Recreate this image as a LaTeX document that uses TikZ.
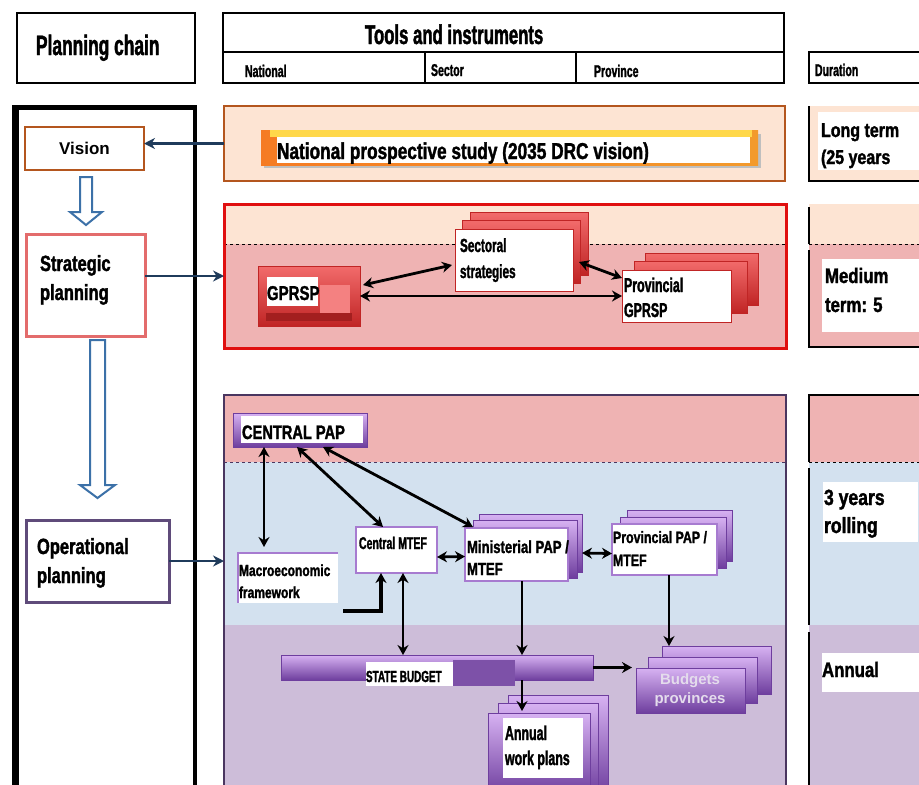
\documentclass[tikz,border=0pt]{standalone}
\usepackage{fontspec}
\setmainfont{Liberation Sans}[FakeStretch=0.62, BoldFeatures={FakeBold=1.5}]
\newfontfamily\condB{Liberation Sans}[FakeStretch=0.75, BoldFeatures={FakeBold=1.5}]
\newfontfamily\semicond{Liberation Sans}[FakeStretch=0.8, BoldFeatures={FakeBold=1.5}]
\newfontfamily\plainsans{Liberation Sans}
\usetikzlibrary{arrows.meta,calc}
\definecolor{peach}{HTML}{FDE4D3}
\definecolor{pinkF}{HTML}{EFB3B3}
\definecolor{blueF}{HTML}{D3E1EF}
\definecolor{lilacF}{HTML}{CDBDD9}
\definecolor{brownB}{HTML}{B4561E}
\definecolor{redB}{HTML}{E00F0F}
\definecolor{purpleB}{HTML}{4A3660}
\definecolor{navy}{HTML}{1F3B5B}
\definecolor{hollowB}{HTML}{3C71A8}
\definecolor{purpleL}{HTML}{A77BD0}
\definecolor{purpleD}{HTML}{6E3E9E}
\definecolor{purpleLt}{HTML}{D7B2F2}
\definecolor{redL}{HTML}{F26B6B}
\definecolor{redD}{HTML}{C02525}
\definecolor{stratB}{HTML}{E36C6C}
\definecolor{opB}{HTML}{5F4B7A}
\definecolor{orangeB}{HTML}{F39A2C}
\definecolor{yellowS}{HTML}{FFD84A}
\definecolor{bpText}{HTML}{E4DCEC}
\tikzset{
  box/.style={anchor=north west, inner sep=0pt, outer sep=0pt},
  txt/.style={anchor=base west, inner sep=0pt, outer sep=0pt, align=left},
  hdr/.style={draw=black, line width=1.2pt},
  redlayer/.style={top color=redL, bottom color=redD, draw=redD, line width=0.6pt},
  redfront/.style={fill=white, draw=redD, line width=0.8pt},
  purplelayer/.style={top color=purpleLt, bottom color=purpleD, draw=purpleD, line width=0.6pt},
  purplefront/.style={fill=white, draw=purpleL, line width=1.2pt},
  purplebtn/.style={top color=purpleLt, bottom color=purpleD, draw=purpleD, line width=0.8pt},
  arr/.style={line width=2.8pt, -{Stealth[length=10pt,width=11pt]}},
  darr/.style={line width=2.8pt, {Stealth[length=10pt,width=11pt]}-{Stealth[length=10pt,width=11pt]}},
  navyarr/.style={navy, line width=2.8pt, -{Stealth[length=11pt,width=11pt]}},
  hollow/.style={fill=white, draw=hollowB, line width=2pt, line join=miter},
}
\newcommand\mybox[6]{\node[box,#2,minimum width={(#5-#3)*1pt},minimum height={(#6-#4)*1pt}] (#1) at (#3,#4) {};}
\newcommand\fs[1]{\fontsize{#1}{#1}\selectfont\bfseries}
\begin{document}
\begin{tikzpicture}[x=1pt,y=-1pt]
\useasboundingbox (0,0) rectangle (919,785);
\fill[white] (0,0) rectangle (919,785);
% ---------- header ----------
\mybox{pc}{hdr}{17}{13}{195}{83}
\node[txt,font=\fs{28}] (pct) at (36,55) {Planning chain};
\mybox{tools}{hdr}{223}{13}{784}{52}
\node[txt,font=\fs{27}] (toolst) at (365,44) {Tools and instruments};
\mybox{natc}{hdr}{223}{52}{425}{83}
\mybox{secc}{hdr}{425}{52}{576}{83}
\mybox{provc}{hdr}{576}{52}{784}{83}
\mybox{durc}{hdr}{809}{52}{935}{83}
\node[txt,font=\fs{17}] (natt) at (245,77) {National};
\node[txt,font=\fs{17}] (sect) at (431,76) {Sector};
\node[txt,font=\fs{17}] (provt) at (594,77) {Province};
\node[txt,font=\fs{17}] (durt) at (815,76) {Duration};
% ---------- left chain frame ----------
\draw[line width=7pt] (15.5,800) -- (15.5,105);
\draw[line width=5pt] (12,107.5) -- (197,107.5);
\draw[line width=4pt] (195,105) -- (195,800);
% ---------- national section ----------
\mybox{natsec}{fill=peach, draw=brownB, line width=2.5pt}{224}{106}{785}{181}
\mybox{natshadow}{fill=black!25}{264}{134}{761}{168}
\mybox{natbar}{left color=orangeB!80!red, right color=orangeB}{261}{130}{758}{165}
\mybox{natbarY}{fill=yellowS}{270}{130}{752}{137}
\mybox{natbarW}{fill=white}{277}{137}{750}{163}
\node[txt,font=\condB\fs{23}] (natstudy) at (277,159) {National prospective study (2035 DRC vision)};
\mybox{ltsec}{fill=peach}{809}{106}{935}{181}
\draw[line width=1.2pt] (ltsec.north west) -- (ltsec.south west) -- (ltsec.south east);
\mybox{ltw}{fill=white}{818}{112}{935}{170}
\node[txt,font=\semicond\fs{20}] (lt1) at (821,137) {Long term};
\node[txt,font=\semicond\fs{20}] (lt2) at (821,164) {(25 years};
% ---------- strategic section ----------
\mybox{stsec}{fill=pinkF}{224}{204}{786}{348}
\mybox{sttop}{fill=peach}{224}{204}{786}{244}
\draw[dashed, line width=0.8pt] (sttop.south west) -- (sttop.south east);
\node[box, draw=redB, line width=3pt, minimum width=562pt, minimum height=144pt] (stframe) at (224,204) {};
\mybox{mtsec}{fill=pinkF}{809}{204}{935}{347}
\mybox{mttop}{fill=peach}{809}{204}{935}{244}
\draw[dashed, line width=0.8pt] (mttop.south west) -- (mttop.south east);
\draw[line width=1.2pt] (809,207) -- (809,244);
\draw[line width=1.2pt] (809,250) -- (mtsec.south west) -- (mtsec.south east);
\mybox{mtw}{fill=white}{822}{259}{935}{332}
\node[txt,font=\semicond\fs{21}] (mt1) at (825,283) {Medium};
\node[txt,font=\semicond\fs{21}] (mt2) at (825,312) {term: 5};
% GPRSP button
\mybox{gprsp}{top color=redL, bottom color=redD, draw=redD, line width=0.8pt}{258}{266}{360}{326}
\mybox{gprspP}{fill=redL!85!white}{320}{285}{350}{315}
\mybox{gprspS}{fill=redD!85!black}{266}{313}{352}{321}
\mybox{gprspW}{fill=white}{267}{277}{318}{306}
\node[txt,font=\condB\fs{20}] (gprspt) at (267,300) {GPRSP};
% sectoral strategies
\mybox{sect3}{redlayer}{470}{212}{588}{275}
\mybox{sect2}{redlayer}{462}{220}{580}{283}
\mybox{sectf}{redfront}{455}{229}{573}{291}
\node[txt,font=\fs{19}] (sectt1) at (460,252) {Sectoral};
\node[txt,font=\fs{19}] (sectt2) at (460,278) {strategies};
% provincial GPRSP
\mybox{pg3}{redlayer}{645}{253}{758}{305}
\mybox{pg2}{redlayer}{634}{261}{747}{313}
\mybox{pgf}{redfront}{622}{270}{731}{322}
\node[txt,font=\fs{20}] (pgt1) at (624,292) {Provincial};
\node[txt,font=\fs{20}] (pgt2) at (624,317) {GPRSP};
% strategic arrows
\draw[darr] (gprsp.east) -- (pgf.west);
\draw[darr] ($(gprsp.north east)+(3,19)$) -- ($(sectf.west)+(-3,5)$);
\draw[darr] ($(sectf.east)+(6,2)$) -- ($(pgf.north west)+(0,8)$);
% ---------- operational section ----------
\mybox{opsec}{fill=lilacF}{224}{395}{786}{800}
\mybox{optop}{fill=pinkF}{224}{395}{786}{462}
\mybox{opmid}{fill=blueF}{224}{462}{786}{625}
\draw[dashed, line width=0.8pt, purpleB] (optop.south west) -- (optop.south east);
\node[box, draw=purpleB, line width=2.5pt, minimum width=562pt, minimum height=405pt] (opframe) at (224,395) {};
\mybox{odsec}{fill=lilacF}{809}{395}{935}{800}
\mybox{odtop}{fill=pinkF}{809}{395}{935}{462}
\mybox{odmid}{fill=blueF}{809}{462}{935}{625}
\draw[dashed, line width=0.8pt] (odtop.south west) -- (odtop.south east);
\draw[line width=1.2pt] (odsec.north east) -- (odsec.north west) -- (809,462);
\draw[line width=1.2pt] (809,468) -- (809,625);
\draw[line width=1.2pt] (809,632) -- (809,800);
\mybox{odw1}{fill=white}{823}{482}{918}{542}
\node[txt,font=\semicond\fs{22}] (od1) at (824,505) {3 years};
\node[txt,font=\semicond\fs{22}] (od2) at (824,533) {rolling};
\mybox{odw2}{fill=white}{822}{653}{935}{692}
\node[txt,font=\semicond\fs{21}] (od3) at (822,677) {Annual};
% CENTRAL PAP
\mybox{cpap}{purplebtn}{233}{413}{367}{447}
\mybox{cpapW}{fill=white}{241}{416}{363}{443}
\node[txt,font=\condB\fs{19.5}] (cpapt) at (242,439) {CENTRAL PAP};
% Macroeconomic framework
\mybox{macro}{fill=white}{238}{553}{338}{603}
\draw[purpleL, line width=1.5pt] (macro.south west) -- (macro.north west) -- (macro.north east);
\node[txt,font=\condB\fs{16}] (macrot1) at (239,576) {Macroeconomic};
\node[txt,font=\condB\fs{16}] (macrot2) at (239,598) {framework};
% Central MTEF
\mybox{cmtef}{purplefront}{356}{527}{437}{573}
\node[txt,font=\fs{17}] (cmteft) at (359,549) {Central MTEF};
% Ministerial PAP / MTEF
\mybox{mini3}{purplelayer}{479}{514}{582}{572}
\mybox{mini2}{purplelayer}{473}{520}{577}{578}
\mybox{minif}{purplefront}{465}{528}{568}{581}
\node[txt,font=\condB\fs{17.5}] (minit1) at (467,553) {Ministerial PAP /};
\node[txt,font=\condB\fs{17.5}] (minit2) at (467,575) {MTEF};
% Provincial PAP / MTEF
\mybox{ppap3}{purplelayer}{627}{510}{732}{561}
\mybox{ppap2}{purplelayer}{620}{517}{726}{568}
\mybox{ppapf}{purplefront}{612}{524}{717}{575}
\node[txt,font=\condB\fs{16.5}] (ppapt1) at (613,543) {Provincial PAP /};
\node[txt,font=\condB\fs{16.5}] (ppapt2) at (613,566) {MTEF};
% STATE BUDGET
\mybox{sb}{purplebtn}{281}{655}{593}{680}
\mybox{sbD}{fill=purpleD!90}{453}{660}{515}{686}
\mybox{sbW}{fill=white}{366}{662}{453}{686}
\node[txt,font=\fs{16}] (sbt) at (366,682) {STATE BUDGET};
% Budgets provinces
\mybox{bp3}{purplelayer}{662}{646}{771}{694}
\mybox{bp2}{purplelayer}{648}{657}{757}{703}
\mybox{bpf}{purplebtn}{636}{668}{745}{713}
\node[inner sep=0pt, font=\plainsans\bfseries\fontsize{15}{19}\selectfont, text=bpText, align=center] (bpt) at (690,690) {Budgets\\provinces};
% Annual work plans
\mybox{awp3}{purplelayer}{508}{695}{608}{795}
\mybox{awp2}{purplelayer}{498}{703}{598}{795}
\mybox{awpf}{purplebtn}{488}{713}{590}{795}
\mybox{awpW}{fill=white}{503}{718}{583}{778}
\node[txt,font=\fs{20}] (awpt1) at (505,740) {Annual};
\node[txt,font=\fs{20}] (awpt2) at (505,765) {work plans};
% operational arrows
\draw[darr] ($(cpap.south west)+(31,0)$) -- ($(macro.north west)+(26,-6)$);
\draw[darr] ($(cpap.south west)+(64,0)$) -- ($(cmtef.north west)+(27,0)$);
\draw[darr] ($(cpap.south west)+(90,0)$) -- ($(minif.north west)+(8,-1)$);
\draw[darr] ($(cmtef.east)+(0,7)$) -- ($(minif.west)+(0,2)$);
\draw[darr] ($(mini3.south east)+(0,-19)$) -- ($(ppapf.west)+(0,4)$);
\draw[line width=4pt, -{Stealth[length=10pt,width=11pt]}] ($(macro.south east)+(5,8)$) -| ($(cmtef.south west)+(25,0)$);
\draw[darr] ($(cmtef.south west)+(47,0)$) -- ($(sb.north west)+(122,0)$);
\draw[arr] ($(minif.south west)+(57,0)$) -- ($(sb.north west)+(241,0)$);
\draw[arr] ($(sb.south west)+(241,0)$) -- ($(awpf.north west)+(34,-2)$);
\draw[arr] ($(ppapf.south west)+(57,0)$) -- ($(bp3.north west)+(7,0)$);
\draw[arr] (sb.east) -- ($(sb.east -| bpf.west)+(-4,0)$);
% ---------- planning chain boxes ----------
\mybox{vision}{fill=white, draw=brownB, line width=2.5pt}{25}{127}{144}{170}
\node[font=\plainsans\fs{17}, inner sep=0pt] (visiont) at (vision.center) {Vision};
\mybox{strat}{fill=white, draw=stratB, line width=3pt}{26}{234}{145}{336}
\node[txt,font=\condB\fs{22}] (stratt1) at (40,271) {Strategic};
\node[txt,font=\condB\fs{22}] (stratt2) at (40,300) {planning};
\mybox{oper}{fill=white, draw=opB, line width=3pt}{26}{520}{169}{602}
\node[txt,font=\condB\fs{22}] (opert1) at (37,554) {Operational};
\node[txt,font=\condB\fs{22}] (opert2) at (37,583) {planning};
% hollow block arrows
\draw[hollow] (80,177) -- (92,177) -- (92,212) -- (102,212) -- (86,225) -- (70,212) -- (80,212) -- cycle;
\draw[hollow] (90,340) -- (105,340) -- (105,485) -- (115,485) -- (97.5,498) -- (80,485) -- (90,485) -- cycle;
% navy arrows
\draw[navyarr] (natsec.west) -- (natsec.west -| vision.east);
\draw[navyarr] (stsec.west -| strat.east) -- (stsec.west);
\draw[navyarr] (oper.east) -- (oper.east -| opsec.west);
\end{tikzpicture}
\end{document}
